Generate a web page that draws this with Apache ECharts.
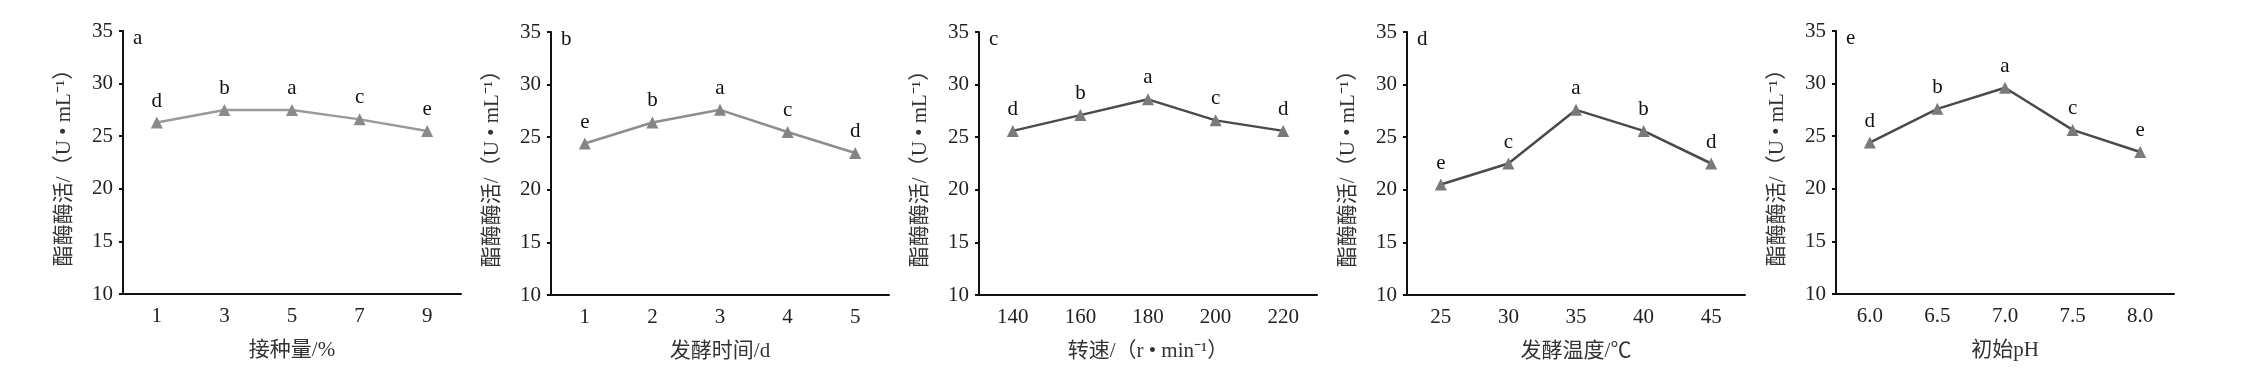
<!DOCTYPE html>
<html>
<head>
<meta charset="utf-8">
<script src="https://cdn.jsdelivr.net/npm/echarts@6/dist/echarts.min.js"></script>
<style>
html, body { margin: 0; padding: 0; background: #fff; }
#chart { width: 2261px; height: 376px; }
</style>
</head>
<body>
<div id="chart"></div>
<script>
var myChart = echarts.init(document.getElementById("chart"));

// x categories of each panel
var inocCats = ['1', '3', '5', '7', '9'];
var timeCats = ['1', '2', '3', '4', '5'];
var speedCats = ['140', '160', '180', '200', '220'];
var tempCats = ['25', '30', '35', '40', '45'];
var phCats = ['6.0', '6.5', '7.0', '7.5', '8.0'];

// enzyme activity values (U/mL)
var inocVals = [26.3, 27.5, 27.5, 26.6, 25.5];
var timeVals = [24.4, 26.4, 27.6, 25.5, 23.5];
var speedVals = [25.6, 27.1, 28.6, 26.6, 25.6];
var tempVals = [20.5, 22.5, 27.6, 25.6, 22.5];
var phVals = [24.4, 27.6, 29.6, 25.6, 23.5];

// significance letters
var inocSig = ['d', 'b', 'a', 'c', 'e'];
var timeSig = ['e', 'b', 'a', 'c', 'd'];
var speedSig = ['d', 'b', 'a', 'c', 'd'];
var tempSig = ['e', 'c', 'a', 'b', 'd'];
var phSig = ['d', 'b', 'a', 'c', 'e'];

var panelTags = ['a', 'b', 'c', 'd', 'e'];
var xNames = ['接种量/%', '发酵时间/d', '转速/（r • min⁻¹）', '发酵温度/℃', '初始pH'];
var yName = '酯酶酶活/（U • mL⁻¹）';

var cats = [inocCats, timeCats, speedCats, tempCats, phCats];
var vals = [inocVals, timeVals, speedVals, tempVals, phVals];
var sigs = [inocSig, timeSig, speedSig, tempSig, phSig];

var gridLefts = [123, 551, 979, 1407, 1836];
var gridTops = [31, 32, 32, 32, 31];
var lineColors = ['#9a9a9a', '#8e8e8e', '#4a4a4a', '#4a4a4a', '#4a4a4a'];
var markColors = ['#8a8a8a', '#858585', '#7a7a7a', '#7a7a7a', '#7a7a7a'];

var FONT = '"Liberation Serif", "Noto Sans CJK SC", serif';

var grids = [], xAxes = [], yAxes = [], series = [], graphics = [];
for (var i = 0; i < 5; i++) {
	grids.push({ left: gridLefts[i], top: gridTops[i], width: 338, height: 263 });
	xAxes.push({
		type: 'category',
		gridIndex: i,
		data: cats[i],
		boundaryGap: true,
		name: xNames[i],
		nameLocation: 'middle',
		nameGap: 46,
		nameTextStyle: { color: '#333', fontSize: 21, fontFamily: FONT },
		axisLine: { lineStyle: { color: '#111', width: 2 } },
		axisTick: { alignWithLabel: true, inside: true, length: 9, lineStyle: { color: '#111', width: 2 } },
		axisLabel: { color: '#222', fontSize: 21, fontFamily: FONT, margin: 12 },
		splitLine: { show: false }
	});
	yAxes.push({
		type: 'value',
		gridIndex: i,
		min: 10,
		max: 35,
		interval: 5,
		name: yName,
		nameLocation: 'middle',
		nameGap: 48,
		nameTextStyle: { color: '#333', fontSize: 21, fontFamily: FONT },
		axisLine: { show: true, lineStyle: { color: '#111', width: 2 } },
		axisTick: { show: true, length: 4, lineStyle: { color: '#111', width: 2 } },
		axisLabel: { color: '#222', fontSize: 21, fontFamily: FONT, margin: 10 },
		splitLine: { show: false }
	});
	(function(sig) {
		series.push({
			type: 'line',
			xAxisIndex: i,
			yAxisIndex: i,
			data: vals[i],
			symbol: 'triangle',
			symbolSize: 12,
			lineStyle: { color: lineColors[i], width: 2.5 },
			itemStyle: { color: markColors[i] },
			label: {
				show: true,
				position: 'top',
				distance: 5,
				color: '#111',
				fontSize: 21,
				fontFamily: FONT,
				formatter: function(p) {
					return sig[p.dataIndex];
				}
			},
			animation: false
		});
	})(sigs[i]);
	graphics.push({
		type: 'text',
		left: gridLefts[i] + 10,
		top: gridTops[i] - 3,
		style: { text: panelTags[i], fill: '#111', font: '21px ' + FONT }
	});
}

var option = {
	backgroundColor: '#fff',
	animation: false,
	grid: grids,
	xAxis: xAxes,
	yAxis: yAxes,
	series: series,
	graphic: graphics
};
myChart.setOption(option);
</script>
</body>
</html>
